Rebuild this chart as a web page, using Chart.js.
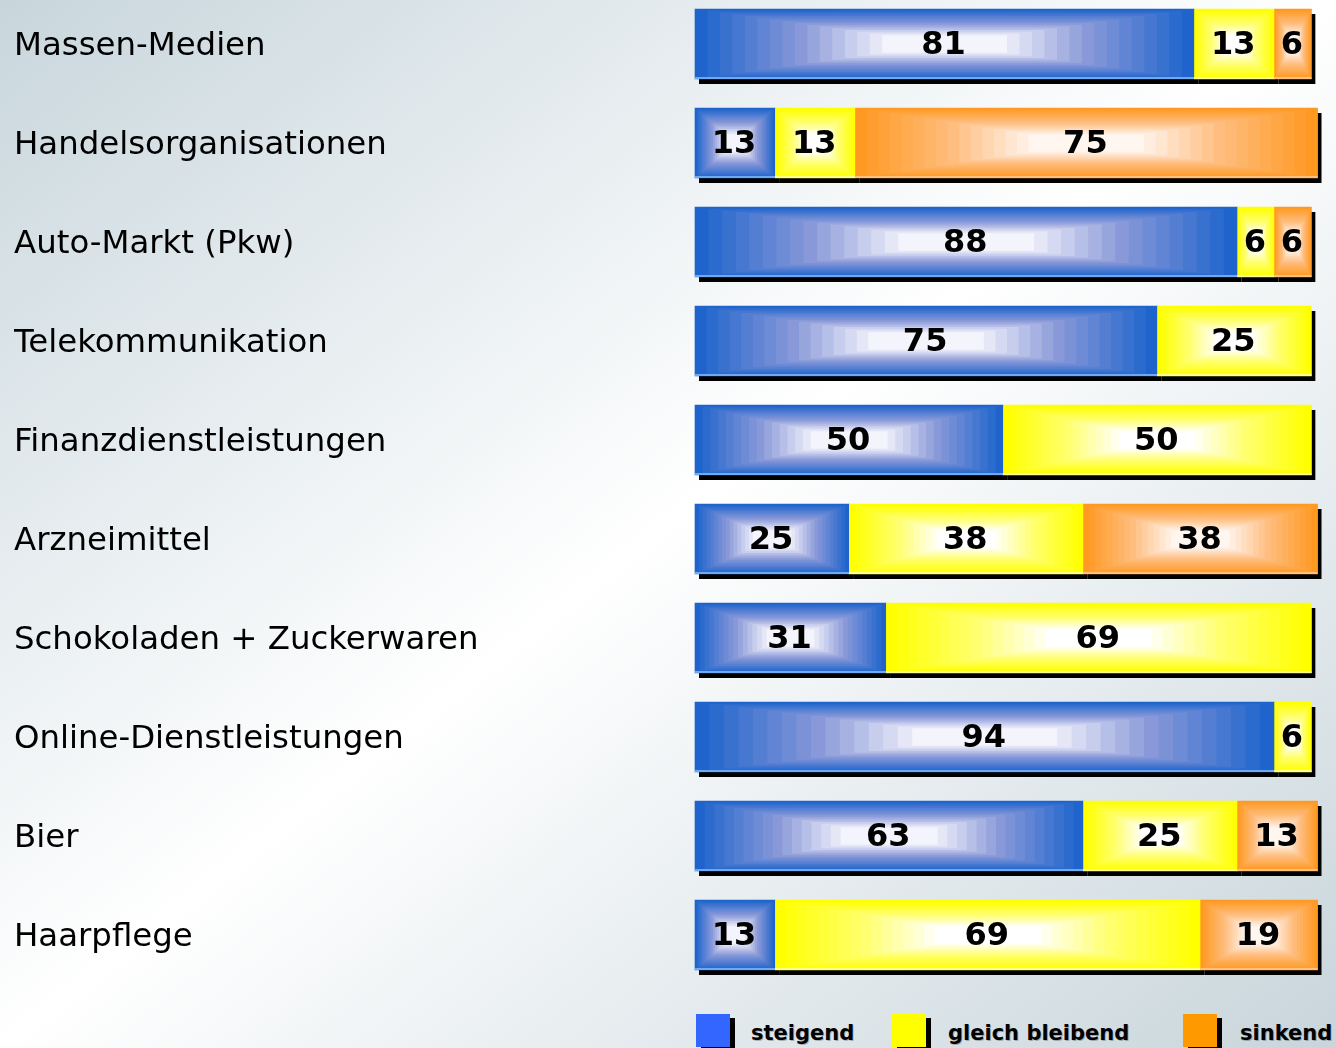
<!DOCTYPE html>
<html>
<head>
<meta charset="utf-8">
<script src="https://cdn.jsdelivr.net/npm/chart.js@4"></script>
<style>
  html, body { margin: 0; padding: 0; }
  body {
    width: 1336px; height: 1048px; overflow: hidden; position: relative;
    background: linear-gradient(to bottom right, #c8d6dc 0%, #ffffff 50%, #c8d5db 100%);
    font-family: "DejaVu Sans", sans-serif;
  }
  #wrap { position: absolute; left: 0; top: 0; width: 1336px; height: 1000px; }
  .leg { position: absolute; top: 1014px; height: 32px; }
  .sw { position: absolute; top: 0; width: 34px; height: 33px; box-shadow: 5px 4px 0 #000; }
  .lt { position: absolute; top: 4px; font: bold 21px "DejaVu Sans", sans-serif; color: #000; white-space: nowrap;
        text-shadow: 1px 1px 0 rgba(0,0,0,0.25); }
</style>
</head>
<body>
<div id="wrap"><canvas id="c"></canvas></div>
<div id="legend"></div>
<script>
// ---- data ----
const categories = ['Massen-Medien','Handelsorganisationen','Auto-Markt (Pkw)','Telekommunikation','Finanzdienstleistungen','Arzneimittel','Schokoladen + Zuckerwaren','Online-Dienstleistungen','Bier','Haarpflege'];
const seriesNames = ['steigend','gleich bleibend','sinkend'];
const steigend = [81, 13, 88, 75, 50, 25, 31, 94, 63, 13];
const gleich   = [13, 13,  6, 25, 50, 38, 69,  6, 25, 69];
const sinkend  = [ 6, 75,  6, null, null, 38, null, null, 13, 19];

// ---- styles ----
const edgeColors   = ['#1f64cc', '#ffff00', '#ff9922'];
const midColors    = ['#8898d8', '#ffff70', '#ffbe80'];
const centerColors = ['#f4f4fc', '#ffffff', '#fff6f0'];
const legendColors = ['#3366ff', '#ffff00', '#ff9900'];
const legendX = [696, 892, 1183];
const legendTextX = [751, 948, 1240];

function hexToRgb(h){ h=h.replace('#',''); return [parseInt(h.substr(0,2),16),parseInt(h.substr(2,2),16),parseInt(h.substr(4,2),16)]; }
function mix(a,b,t){ const A=hexToRgb(a),B=hexToRgb(b); return 'rgb('+A.map((v,i)=>Math.round(v+(B[i]-v)*t)).join(',')+')'; }
function ramp(di, t){
  if (t < 0.4) return mix(edgeColors[di], midColors[di], t / 0.4);
  return mix(midColors[di], centerColors[di], Math.min(1, (t - 0.4) / 0.35));
}

const shadowPlugin = {
  id: 'barShadow',
  beforeDatasetsDraw(chart) {
    const ctx = chart.ctx;
    const metas = chart.getSortedVisibleDatasetMetas();
    ctx.save();
    ctx.fillStyle = '#000';
    metas.forEach(meta => {
      meta.data.forEach((el, i) => {
        const v = chart.data.datasets[meta.index].data[i];
        if (v === null || v === undefined) return;
        const p = el.getProps(['x','y','base','height'], true);
        const l = Math.min(p.x, p.base), r = Math.max(p.x, p.base);
        ctx.fillRect(l + 4, p.y - p.height/2 + 5, r - l, p.height);
      });
    });
    ctx.restore();
  }
};

const fillPlugin = {
  id: 'boxGradient',
  afterDatasetsDraw(chart) {
    const ctx = chart.ctx;
    const metas = chart.getSortedVisibleDatasetMetas();
    ctx.save();
    metas.forEach(meta => {
      const di = meta.index;
      meta.data.forEach((el, i) => {
        const v = chart.data.datasets[di].data[i];
        if (v === null || v === undefined) return;
        const p = el.getProps(['x','y','base','height'], true);
        const l = Math.min(p.x, p.base), r = Math.max(p.x, p.base);
        const w = r - l, h = p.height, t0 = p.y - h/2;
        const N = 20;
        for (let k = 0; k < N; k++) {
          const t = k / N;
          const ix = t * w / 2, iy = t * h / 2;
          ctx.fillStyle = ramp(di, t);
          ctx.fillRect(l + ix, t0 + iy, w - 2*ix, h - 2*iy);
        }
        // light bottom edge line
        ctx.fillStyle = di === 0 ? '#6eaaf2' : (di === 1 ? '#ffff90' : '#ffc080');
        ctx.fillRect(l, t0 + h - 2, w, 2);
        // label
        ctx.fillStyle = '#000';
        ctx.font = 'bold 32px "DejaVu Sans", sans-serif';
        ctx.textAlign = 'center';
        ctx.textBaseline = 'middle';
        ctx.fillText(String(v), (l + r) / 2 - 1, p.y + 2);
      });
    });
    ctx.restore();
  }
};

const chart = new Chart(document.getElementById('c'), {
  type: 'bar',
  data: {
    labels: categories,
    datasets: [
      { label: seriesNames[0], data: steigend, backgroundColor: edgeColors[0] },
      { label: seriesNames[1], data: gleich,   backgroundColor: edgeColors[1] },
      { label: seriesNames[2], data: sinkend,  backgroundColor: edgeColors[2] }
    ]
  },
  options: {
    indexAxis: 'y',
    responsive: true,
    maintainAspectRatio: false,
    animation: false,
    layout: { padding: { left: 14, right: 0, top: 44, bottom: 65 } },
    datasets: { bar: { barThickness: 70, borderWidth: 0, clip: false } },
    plugins: { legend: { display: false }, tooltip: { enabled: false } },
    scales: {
      x: { stacked: true, min: 0, max: 104, display: false },
      y: {
        stacked: true,
        offset: false,
        grid: { display: false },
        border: { display: false },
        afterFit(scale) { scale.width = 681; },
        ticks: {
          crossAlign: 'far',
          padding: 0,
          labelOffset: 3,
          color: '#000',
          font: { family: '"DejaVu Sans", sans-serif', size: 32.4 }
        }
      }
    }
  },
  plugins: [shadowPlugin, fillPlugin]
});

// ---- HTML legend ----
const legend = document.getElementById('legend');
seriesNames.forEach((name, i) => {
  const sw = document.createElement('div');
  sw.className = 'leg sw';
  sw.style.left = legendX[i] + 'px';
  sw.style.top = '1014px';
  sw.style.background = legendColors[i];
  legend.appendChild(sw);
  const t = document.createElement('div');
  t.className = 'lt';
  t.style.left = legendTextX[i] + 'px';
  t.style.top = '1021px';
  t.textContent = name;
  legend.appendChild(t);
});
</script>
</body>
</html>
